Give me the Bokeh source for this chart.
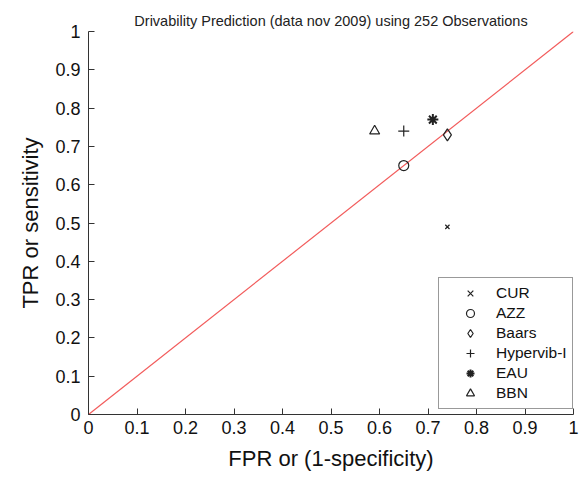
from bokeh.plotting import figure
from bokeh.models import Range1d, FixedTicker, NumeralTickFormatter, Legend, LegendItem, Title
from bokeh.embed import file_html
from bokeh.resources import INLINE

names = ["CUR", "AZZ", "Baars", "Hypervib-I", "EAU", "BBN"]
fpr = [0.74, 0.65, 0.74, 0.65, 0.71, 0.59]
tpr = [0.49, 0.65, 0.73, 0.74, 0.77, 0.74]
markers = ["x", "circle", "diamond", "cross", "asterisk", "triangle"]
sizes = [6, 10, 12, 11, 10, 10]
ticks = [0, 0.1, 0.2, 0.3, 0.4, 0.5, 0.6, 0.7, 0.8, 0.9, 1]
diag = [0, 1]

p = figure(width=584, height=477, output_backend="svg", toolbar_location=None,
           x_range=Range1d(0, 1), y_range=Range1d(0, 1),
           min_border_left=88, min_border_right=11, min_border_top=31, min_border_bottom=63)
p.title = None
p.add_layout(Title(text="Drivability Prediction (data nov 2009) using 252 Observations",
                   align="center", text_font="Liberation Sans", text_font_size="14.5px",
                   text_font_style="normal", text_color="#222222", offset=4, standoff=6), "above")
p.xgrid.visible = False
p.ygrid.visible = False
p.outline_line_color = None

p.line(diag, diag, line_color="#f25b5b", line_width=1.2)

items = []
for i, n in enumerate(names):
    kw = dict(marker=markers[i], size=sizes[i], line_color="#222222", line_width=1.2)
    if markers[i] in ("circle", "diamond", "triangle"):
        kw["fill_color"] = None
    else:
        kw["fill_color"] = "#222222"
    if markers[i] == "asterisk":
        kw["line_width"] = 2.0
        kw["size"] = 11
    r = p.scatter([fpr[i]], [tpr[i]], **kw)
    items.append(LegendItem(label=n, renderers=[r]))

for ax, lab in ((p.xaxis[0], "FPR or (1-specificity)"), (p.yaxis[0], "TPR or sensitivity")):
    ax.ticker = FixedTicker(ticks=ticks)
    ax.formatter = NumeralTickFormatter(format="0.[0]")
    ax.minor_tick_line_color = None
    ax.major_tick_in = 6
    ax.major_tick_out = 0
    ax.axis_line_color = "#333333"
    ax.major_tick_line_color = "#333333"
    ax.major_label_text_font = "Liberation Sans"
    ax.major_label_text_font_size = "18px"
    ax.major_label_text_color = "#111111"
    ax.axis_label = lab
    ax.axis_label_text_font = "Liberation Sans"
    ax.axis_label_text_font_size = "22px"
    ax.axis_label_text_font_style = "normal"
    ax.axis_label_text_color = "#111111"
p.xaxis[0].major_label_standoff = 6
p.yaxis[0].major_label_standoff = 8
p.xaxis[0].axis_label_standoff = 9
p.yaxis[0].axis_label_standoff = 9

legend = Legend(items=items, location=(350, 5), padding=5, spacing=0,
                label_height=20, glyph_height=20, glyph_width=52, label_standoff=0,
                margin=0, border_line_color="#333333", border_line_width=1,
                label_text_font="Liberation Sans", label_text_font_size="15.5px",
                label_text_color="#111111", background_fill_alpha=1)
legend.label_width = 68
p.add_layout(legend, "center")

open("out.html", "w").write(file_html(p, INLINE))
